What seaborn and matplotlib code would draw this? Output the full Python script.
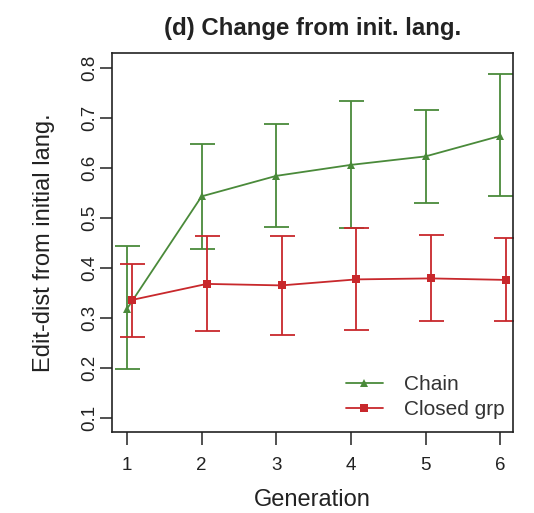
import numpy as np
import pandas as pd
import matplotlib
matplotlib.use("Agg")
import matplotlib.pyplot as plt
import seaborn as sns

# values
generation = [1, 2, 3, 4, 5, 6]
chain_mean = [0.318, 0.543, 0.584, 0.606, 0.623, 0.664]
chain_low = [0.198, 0.437, 0.481, 0.479, 0.529, 0.543]
chain_high = [0.443, 0.648, 0.688, 0.733, 0.716, 0.788]
closed_mean = [0.336, 0.368, 0.365, 0.377, 0.379, 0.376]
closed_low = [0.261, 0.273, 0.266, 0.275, 0.294, 0.294]
closed_high = [0.408, 0.464, 0.464, 0.479, 0.466, 0.459]
series_names = ["Chain", "Closed grp"]
y_ticks = [0.1, 0.2, 0.3, 0.4, 0.5, 0.6, 0.7, 0.8]

green = "#4a8a3a"
red = "#c8282c"
offset = 0.07  # closed group drawn slightly to the right

sns.set_style("white")
plt.rcParams['font.family'] = ['Liberation Sans', 'DejaVu Sans']

df = pd.DataFrame({
    "gen": generation + [g + offset for g in generation],
    "val": chain_mean + closed_mean,
    "grp": [series_names[0]] * 6 + [series_names[1]] * 6,
})

fig = plt.figure(figsize=(5.34, 5.13), dpi=100)
ax = fig.add_axes([0.2097, 0.158, 0.751, 0.739])

sns.lineplot(data=df, x="gen", y="val", hue="grp", style="grp",
             palette=[green, red], markers=["^", "s"], dashes=False,
             markersize=5.5, markeredgewidth=0, linewidth=1.3, ax=ax)

# error bars
gx = np.array(generation, dtype=float)
ax.errorbar(gx, chain_mean,
            yerr=[np.array(chain_mean) - chain_low, np.array(chain_high) - chain_mean],
            fmt="none", ecolor=green, elinewidth=1.3, capsize=9, capthick=1.3)
ax.errorbar(gx + offset, closed_mean,
            yerr=[np.array(closed_mean) - closed_low, np.array(closed_high) - closed_mean],
            fmt="none", ecolor=red, elinewidth=1.3, capsize=9, capthick=1.3)

ax.set_xlim(0.8, 6.17)
ax.set_ylim(0.072, 0.83)
ax.set_xticks(generation)
ax.set_yticks(y_ticks)
ax.set_yticklabels([f"{v:.1f}" for v in y_ticks], rotation=90, va="center")
ax.tick_params(axis="both", direction="out", length=9, width=1.1, labelsize=13.5,
               left=True, bottom=True, colors="#222222")
ax.tick_params(axis="x", pad=9)
ax.tick_params(axis="y", pad=1)
for s in ax.spines.values():
    s.set_color("#222222")
    s.set_linewidth(1.2)

ax.set_xlabel("Generation", fontsize=17, labelpad=10.5, color="#222222")
ax.set_ylabel("Edit-dist from initial lang.", fontsize=17, labelpad=19, color="#222222")
ax.set_title("(d) Change from init. lang.", fontsize=17.3, fontweight="bold",
             pad=13, color="#222222")

leg = ax.legend(loc="lower right", bbox_to_anchor=(1.0, 0.012), frameon=False,
                fontsize=15, handlelength=1.8, handletextpad=1.0, labelspacing=0.3,
                borderpad=0.1, borderaxespad=0.3)
for t in leg.get_texts():
    t.set_color("#333333")

fig.savefig("out.png", dpi=100)
